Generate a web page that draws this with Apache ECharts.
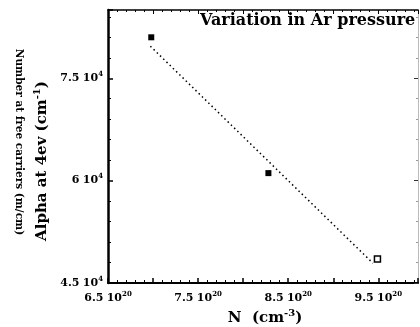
<!DOCTYPE html>
<html lang="en">
<head>
<meta charset="UTF-8">
<title>Alpha at 4ev vs N</title>
<script src="https://cdn.jsdelivr.net/npm/echarts@6.0.0/dist/echarts.min.js"></script>
<style>
  html, body { margin: 0; padding: 0; background: #fff; }
  #main { width: 420px; height: 327px; }
</style>
</head>
<body>
<div id="main"></div>
<script>
// measured points (N in 10^20 cm^-3, alpha in 10^4 cm^-1)
const nValues = [6.98, 8.28, 9.49];
const alphaValues = [8.10, 6.11, 4.85];
const filled = [true, true, false];

// dotted fit line end points
const fitN = [6.97, 9.44];
const fitAlpha = [7.97, 4.79];

const xTickLabels = ['6.5', '7.5', '8.5', '9.5'];
const yTickLabels = ['4.5', '6', '7.5'];

const serif = 'DejaVu Serif';

const points = nValues.map((n, i) => ({
    value: [n, alphaValues[i]],
    itemStyle: filled[i]
        ? { color: '#000', opacity: 1 }
        : { color: '#fff', borderColor: '#000', borderWidth: 1.5, opacity: 1 }
}));
const fitLine = fitN.map((n, i) => [n, fitAlpha[i]]);

function tickText(v, list, exp) {
    const s = String(Math.round(v * 10) / 10);
    return list.indexOf(s) >= 0 ? '{n|' + s + '} {n|10}{s|' + exp + '}' : '';
}

const tickRich = {
    n: { fontFamily: serif, fontWeight: 'bold', fontSize: 11, color: '#000' },
    s: { fontFamily: serif, fontWeight: 'bold', fontSize: 7, color: '#000', padding: [0, 0, 8, 0] }
};

const chart = echarts.init(document.getElementById('main'));
chart.setOption({
    animation: false,
    grid: { left: 108, right: 2, top: 10, bottom: 44 },
    xAxis: [{
        type: 'value', min: 6.5, max: 9.94, interval: 0.5,
        axisLine: { lineStyle: { color: '#000', width: 2 } },
        axisTick: { inside: true, length: 5, lineStyle: { color: '#000', width: 1.5 } },
        minorTick: { show: true, splitNumber: 5, length: 3, lineStyle: { color: '#000' } },
        splitLine: { show: false },
        axisLabel: {
            margin: 8, showMaxLabel: false,
            formatter: v => tickText(v, xTickLabels, '20'),
            rich: tickRich
        }
    }, {
        type: 'value', position: 'top', min: 6.5, max: 9.94, interval: 0.5,
        axisLine: { lineStyle: { color: '#000', width: 1.5 } },
        axisTick: { inside: true, length: 4, lineStyle: { color: '#000' } },
        minorTick: { show: true, splitNumber: 5, length: 2, lineStyle: { color: '#000' } },
        splitLine: { show: false },
        axisLabel: { show: false }
    }],
    yAxis: [{
        type: 'value', min: 4.5, max: 8.5, interval: 1.5,
        axisLine: { lineStyle: { color: '#000', width: 2.5 } },
        axisTick: { inside: true, length: 5, lineStyle: { color: '#000', width: 1.5 } },
        minorTick: { show: true, splitNumber: 5, length: 3, lineStyle: { color: '#000' } },
        splitLine: { show: false },
        axisLabel: {
            margin: 5, showMaxLabel: false,
            formatter: v => tickText(v, yTickLabels, '4'),
            rich: tickRich
        }
    }, {
        type: 'value', position: 'right', min: 4.5, max: 8.5, interval: 1.5,
        axisLine: { lineStyle: { color: '#bbb', width: 1 } },
        axisTick: { inside: true, length: 4, lineStyle: { color: '#333' } },
        minorTick: { show: true, splitNumber: 5, length: 2, lineStyle: { color: '#999' } },
        splitLine: { show: false },
        axisLabel: { show: false }
    }],
    series: [{
        type: 'line',
        data: fitLine,
        symbol: 'none',
        lineStyle: { color: '#000', width: 1.5, type: [1.5, 3] },
        z: 2
    }, {
        type: 'scatter',
        data: points,
        symbol: 'rect',
        symbolSize: 6,
        z: 3
    }],
    graphic: [{
        type: 'text', left: 200, top: 13,
        style: { text: 'Variation in Ar pressure', font: 'bold 16px "DejaVu Serif"', fill: '#000' }
    }, {
        type: 'text', x: 42, y: 161, rotation: Math.PI / 2,
        style: {
            text: '{m|Alpha at 4ev (cm}{s|-1}{m|)}',
            align: 'center', verticalAlign: 'middle',
            rich: {
                m: { font: 'bold 15px "DejaVu Serif"', fill: '#000' },
                s: { font: 'bold 10px "DejaVu Serif"', fill: '#000', padding: [0, 0, 9, 0] }
            }
        }
    }, {
        type: 'text', x: 265, y: 318,
        style: {
            text: '{m|N  (cm}{s|-3}{m|)}',
            align: 'center', verticalAlign: 'middle',
            rich: {
                m: { font: 'bold 15px "DejaVu Serif"', fill: '#000' },
                s: { font: 'bold 10px "DejaVu Serif"', fill: '#000', padding: [0, 0, 9, 0] }
            }
        }
    }, {
        type: 'text', x: 19, y: 142, rotation: -Math.PI / 2,
        style: {
            text: 'Number at free carriers (m/cm)',
            align: 'center', verticalAlign: 'middle',
            font: 'bold 10.5px "DejaVu Serif"', fill: '#000'
        }
    }]
});
</script>
</body>
</html>
